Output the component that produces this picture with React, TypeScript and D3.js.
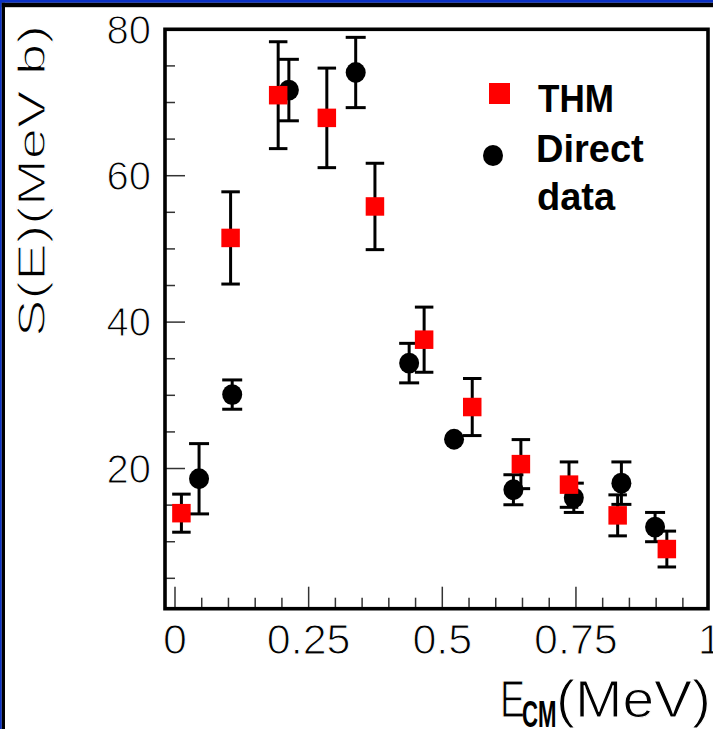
import React from 'react';
import * as d3 from 'd3';

// THM data (red squares)
const thmE = [0.012, 0.104, 0.193, 0.284, 0.374, 0.466, 0.556, 0.647, 0.737, 0.828, 0.92];
const thmS = [13.9, 51.5, 71.0, 67.9, 55.8, 37.6, 28.4, 20.6, 17.8, 13.6, 9.0];
const thmErr = [2.6, 6.3, 7.3, 6.8, 5.9, 4.45, 3.9, 3.35, 3.1, 2.8, 2.45];

// Direct data (black circles)
const directE = [0.045, 0.107, 0.213, 0.338, 0.438, 0.522, 0.633, 0.746, 0.835, 0.898];
const directS = [18.6, 30.1, 71.7, 74.1, 34.4, 24.0, 17.1, 16.0, 18.0, 12.0];
const directErr = [4.8, 2.0, 4.2, 4.8, 2.7, 0, 2.05, 2.0, 2.9, 2.0];

const xTickValues = [0, 0.25, 0.5, 0.75, 1];
const xTickLabels = ['0', '0.25', '0.5', '0.75', '1'];
const yTickValues = [20, 40, 60, 80];
const yTickLabels = ['20', '40', '60', '80'];

const legendLabels = ['THM', 'Direct', 'data'];

const W = 713;
const H = 729;
const FONT = '"Liberation Sans", Arial, Helvetica, sans-serif';

export default function App() {
  const left = 165, right = 708, top = 29.3, bottom = 608.7;
  const x = d3.scaleLinear().domain([-0.0187, 0.997]).range([left, right]);
  const y = d3.scaleLinear().domain([0.85, 80]).range([bottom, top]);
  const [xd0, xd1] = x.domain();
  const [yd0, yd1] = y.domain();

  const xMinor = d3.range(0, 21).map((i) => i * 0.05).filter((v) => v >= xd0 && v <= xd1);
  const yMinor = d3.range(0, 17).map((i) => i * 5).filter((v) => v >= yd0 && v <= yd1);

  const thm = thmE.map((e, i) => ({ e, s: thmS[i], err: thmErr[i] }));
  const direct = directE.map((e, i) => ({ e, s: directS[i], err: directErr[i] }));

  const sq = 18.5;
  const r = 10;

  const errBar = (d: { e: number; s: number; err: number }, half: number, key: string) => {
    if (!d.err) return null;
    const cx = x(d.e);
    const y1 = y(d.s + d.err);
    const y2 = y(d.s - d.err);
    return (
      <g key={key} stroke="#000" strokeWidth={3}>
        <line x1={cx} x2={cx} y1={y1} y2={y2} />
        <line x1={cx - half} x2={cx + half} y1={y1} y2={y1} />
        <line x1={cx - half} x2={cx + half} y1={y2} y2={y2} />
      </g>
    );
  };

  // thin-stroke look for the regular-weight texts
  const thin = { stroke: '#fff', strokeWidth: 1.1 };

  return (
    <svg width={W} height={H} style={{ position: 'absolute', left: 0, top: 0, background: '#fff' }}>
      <rect x={0} y={0} width={W} height={H} fill="#fff" />
      {/* outer border */}
      <rect x={0} y={0} width={W} height={2.8} fill="#0b31c4" />
      <rect x={0} y={0} width={1.8} height={H} fill="#0b31c4" />
      <rect x={1.8} y={2.8} width={W} height={4.4} fill="#000" />
      <rect x={1.8} y={2.8} width={3.2} height={H} fill="#000" />

      {/* ticks */}
      <g stroke="#333" strokeWidth={1.5}>
        {xMinor.map((v, i) => {
          const major = xTickValues.some((t) => Math.abs(t - v) < 1e-6);
          return <line key={'xm' + i} x1={x(v)} x2={x(v)} y1={bottom} y2={bottom - (major ? 22 : 11)} />;
        })}
        {yMinor.map((v, i) => {
          const major = yTickValues.some((t) => Math.abs(t - v) < 1e-6);
          return <line key={'ym' + i} x1={left} x2={left + (major ? 20 : 10)} y1={y(v)} y2={y(v)} />;
        })}
      </g>

      {/* frame */}
      <rect x={left} y={top} width={right - left} height={bottom - top} fill="none" stroke="#000" strokeWidth={3.6} />

      {/* tick labels */}
      <g fontFamily={FONT} fontSize={43} fill="#000" {...thin}>
        {xTickValues.map((v, i) => (
          <text key={'xl' + i} x={x(v)} y={653.5} textAnchor="middle">
            {xTickLabels[i]}
          </text>
        ))}
      </g>
      <g fontFamily={FONT} fontSize={40} fill="#000" {...thin}>
        {yTickValues.map((v, i) => (
          <text key={'yl' + i} x={151} y={y(v) + 14.3} textAnchor="end">
            {yTickLabels[i]}
          </text>
        ))}
      </g>

      {/* axis titles */}
      <text
        transform="translate(45,337) rotate(-90)"
        fontFamily={FONT}
        fontSize={38}
        textLength={312}
        lengthAdjust="spacingAndGlyphs"
        {...thin}
      >
        S(E)(MeV b)
      </text>
      <text x={500} y={717} fontFamily={FONT} fontSize={52} textLength={25} lengthAdjust="spacingAndGlyphs" {...thin}>
        E
      </text>
      <text x={522} y={726.7} fontFamily={FONT} fontSize={37} fontWeight="bold" textLength={34.5} lengthAdjust="spacingAndGlyphs">
        CM
      </text>
      <text x={556} y={717} fontFamily={FONT} fontSize={52} textLength={155} lengthAdjust="spacingAndGlyphs" {...thin}>
        (MeV)
      </text>

      {/* direct data */}
      {direct.map((d, i) => errBar(d, 10, 'de' + i))}
      {direct.map((d, i) => (
        <ellipse key={'dm' + i} cx={x(d.e)} cy={y(d.s)} rx={r} ry={r + 0.4} fill="#000" />
      ))}

      {/* THM data */}
      {thm.map((d, i) => errBar(d, 9.25, 'te' + i))}
      {thm.map((d, i) => (
        <rect key={'tm' + i} x={x(d.e) - sq / 2} y={y(d.s) - sq / 2} width={sq} height={sq} fill="#ff0000" />
      ))}

      {/* legend */}
      <rect x={489} y={83} width={21} height={21} fill="#ff0000" />
      <ellipse cx={493} cy={155.5} rx={10} ry={10.5} fill="#000" />
      <g fontFamily={FONT} fontWeight="bold" fontSize={38} fill="#000">
        <text x={538} y={111.7} textLength={76} lengthAdjust="spacingAndGlyphs">
          {legendLabels[0]}
        </text>
        <text x={536} y={161.7}>{legendLabels[1]}</text>
        <text x={537} y={210}>{legendLabels[2]}</text>
      </g>
    </svg>
  );
}
